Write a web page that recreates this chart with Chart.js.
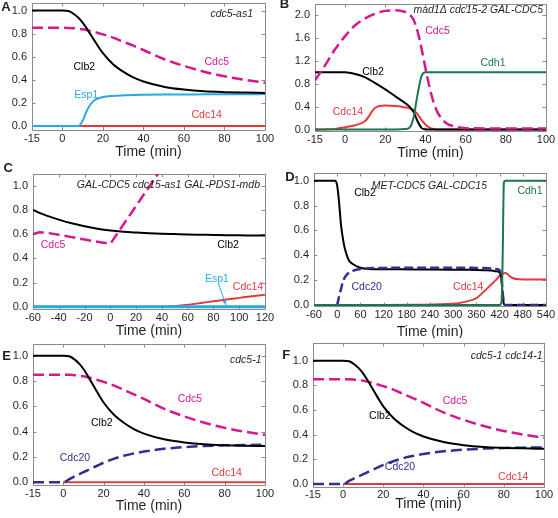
<!DOCTYPE html>
<html>
<head>
<meta charset="utf-8">
<script src="https://cdn.jsdelivr.net/npm/chart.js@4.4.0/dist/chart.umd.min.js"></script>
<style>
  html, body { margin: 0; padding: 0; background: #fff; }
  #wrap { position: relative; width: 558px; height: 518px; overflow: hidden; }
  #wrap canvas { position: absolute; }
</style>
</head>
<body>
<div id="wrap">
  <canvas id="pA"></canvas>
  <canvas id="pB"></canvas>
  <canvas id="pC"></canvas>
  <canvas id="pD"></canvas>
  <canvas id="pE"></canvas>
  <canvas id="pF"></canvas>
</div>
<script>
// ============================================
// Data
// ============================================

// Panel A: cdc5-as1
const aTime  = [-15, 0, 3, 6, 8, 10, 12, 14, 16, 18, 20, 25, 30, 35, 40, 50, 60, 70, 80, 90, 100];
const aClb2  = [1, 1, 0.995, 0.965, 0.935, 0.895, 0.845, 0.79, 0.735, 0.68, 0.63, 0.535, 0.47, 0.42, 0.385, 0.34, 0.315, 0.3, 0.293, 0.289, 0.286];
const aCdc5  = [0.85, 0.85, 0.849, 0.846, 0.842, 0.837, 0.83, 0.822, 0.813, 0.803, 0.793, 0.765, 0.73, 0.695, 0.658, 0.58, 0.52, 0.47, 0.43, 0.4, 0.375];
const aEsp1  = [0, 0, 0, 0, 0, 0.045, 0.13, 0.19, 0.225, 0.24, 0.25, 0.26, 0.265, 0.268, 0.27, 0.272, 0.273, 0.274, 0.275, 0.275, 0.276];
const aCdc14 = [0, 0, 0, 0, 0, 0, 0, 0, 0, 0, 0, 0, 0, 0, 0, 0, 0, 0, 0, 0, 0];

// Panel B: mad1Δ cdc15-2 GAL-CDC5
const bTime  = [-15, -10, -5, 0, 5, 10, 15, 20, 25, 30, 32, 34, 36, 38, 40, 42, 44, 46, 50, 55, 60, 70, 80, 100];
const bCdc5  = [0.86, 1.12, 1.4, 1.63, 1.82, 1.94, 2.02, 2.07, 2.08, 2.05, 2.01, 1.92, 1.72, 1.42, 1.07, 0.74, 0.48, 0.3, 0.12, 0.05, 0.025, 0.02, 0.02, 0.02];
const bClb2  = [1, 1, 1, 1, 0.97, 0.91, 0.81, 0.7, 0.58, 0.46, 0.4, 0.31, 0.15, 0.03, 0.005, 0, 0, 0, 0, 0, 0, 0, 0, 0];
const bCdc14 = [0, 0.003, 0.012, 0.04, 0.075, 0.15, 0.38, 0.42, 0.41, 0.385, 0.37, 0.34, 0.27, 0.17, 0.09, 0.035, 0.01, 0, 0, 0, 0, 0, 0, 0];
const bCdh1  = [0, 0, 0, 0, 0, 0, 0, 0, 0.002, 0.008, 0.03, 0.2, 0.6, 0.93, 1, 1, 1, 1, 1, 1, 1, 1, 1, 1];

// Panel C: GAL-CDC5 cdc15-as1 GAL-PDS1-mdb
const cTime  = [-60, -55, -50, -40, -30, -20, -10, 0, 10, 20, 30, 40, 50, 60, 70, 80, 90, 100, 110, 120];
const cClb2  = [0.8, 0.775, 0.755, 0.72, 0.69, 0.665, 0.645, 0.63, 0.62, 0.613, 0.607, 0.603, 0.6, 0.597, 0.595, 0.593, 0.591, 0.59, 0.589, 0.588];
const cCdc5  = [0.6, 0.615, 0.612, 0.595, 0.575, 0.555, 0.537, 0.52, 0.677, 0.833, 0.99, 1.147, null, null, null, null, null, null, null, null];
const cEsp1  = [0, 0, 0, 0, 0, 0, 0, 0, 0, 0, 0, 0, 0, 0, 0, 0, 0, 0, 0, 0];
const cCdc14 = [0, 0, 0, 0, 0, 0, 0, 0, 0, 0, 0, 0, 0.005, 0.016, 0.03, 0.045, 0.06, 0.073, 0.086, 0.098];

// Panel D: MET-CDC5 GAL-CDC15
const dTime  = [-60, -5, 0, 5, 10, 15, 20, 30, 40, 60, 80, 120, 200, 300, 330, 360, 380, 400, 410, 420, 425, 428, 431, 434, 438, 445, 455, 470, 500, 540];
const dClb2  = [1, 1, 0.96, 0.82, 0.64, 0.53, 0.45, 0.36, 0.33, 0.3, 0.29, 0.288, 0.286, 0.284, 0.283, 0.282, 0.28, 0.277, 0.272, 0.26, 0.2, 0.08, 0.01, 0, 0, 0, 0, 0, 0, 0];
const dCdc20 = [null, null, 0, 0.07, 0.13, 0.19, 0.225, 0.26, 0.275, 0.29, 0.295, 0.298, 0.3, 0.3, 0.3, 0.298, 0.297, 0.293, 0.29, 0.28, 0.22, 0.1, 0.02, 0, 0, 0, 0, 0, 0, 0];
const dCdh1  = [0, 0, 0, 0, 0, 0, 0, 0, 0, 0, 0, 0, 0, 0, 0, 0, 0, 0, 0, 0, 0.02, 0.4, 0.98, 1, 1, 1, 1, 1, 1, 1];
const dCdc14 = [0, 0, 0, 0, 0, 0, 0, 0, 0, 0, 0, 0, 0.002, 0.01, 0.025, 0.055, 0.11, 0.17, 0.2, 0.235, 0.245, 0.25, 0.255, 0.258, 0.255, 0.235, 0.215, 0.207, 0.205, 0.205];

// Panels E (cdc5-1) and F (cdc5-1 cdc14-1)
const eTime  = [-15, 0, 3, 6, 8, 10, 12, 14, 16, 18, 20, 25, 30, 35, 40, 50, 60, 70, 80, 90, 100];
const eClb2  = [1, 1, 0.995, 0.965, 0.935, 0.895, 0.845, 0.79, 0.735, 0.68, 0.63, 0.535, 0.47, 0.42, 0.385, 0.34, 0.315, 0.3, 0.293, 0.289, 0.286];
const eCdc5  = [0.85, 0.85, 0.849, 0.846, 0.842, 0.837, 0.83, 0.822, 0.813, 0.803, 0.793, 0.765, 0.73, 0.695, 0.658, 0.58, 0.52, 0.47, 0.43, 0.4, 0.375];
const eCdc20 = [0, 0, 0.025, 0.05, 0.065, 0.08, 0.095, 0.11, 0.125, 0.14, 0.155, 0.185, 0.21, 0.228, 0.243, 0.265, 0.278, 0.287, 0.292, 0.295, 0.297];
const eCdc14 = [null, 0, 0, 0, 0, 0, 0, 0, 0, 0, 0, 0, 0, 0, 0, 0, 0, 0, 0, 0, 0];

// Tick labels
const ticks100X = [-15, 0, 20, 40, 60, 80, 100];
const ticksCX   = [-60, -40, -20, 0, 20, 40, 60, 80, 100, 120];
const ticksDX   = [-60, 0, 60, 120, 180, 240, 300, 360, 420, 480, 540];
const ticksUnitY = [0, 0.2, 0.4, 0.6, 0.8, 1.0];
const ticksBY    = [0, 0.4, 0.8, 1.2, 1.6, 2.0];

// ============================================
// Styles
// ============================================
const FONT = "'Liberation Sans', Arial, sans-serif";
const INK = '#231f20';
const FRAME = '#8a8a8a';
const COL = {
    clb2: '#000000',
    cdc5: '#d6188f',
    esp1: '#27aae1',
    cdc14: '#e03a3e',
    cdh1: '#18784a',
    cdc20: '#2e3190'
};
const DASH = [11, 5];

function line(values, color, width, dash, straight) {
    return { values, color, width, dash: dash || [], straight: !!straight };
}

// box = canvas [left, top, width, height] in page px; area = plot frame [l, t, r, b]
const panels = [
    {
        id: 'pA', letter: 'A', letterAt: [-26, 4.5], box: [0, 0, 280, 166], area: [32, 3, 265, 130],
        titleY: 152, xMin: -15, xMax: 100, yMin: -0.035, yMax: 1.065,
        xTicks: ticks100X, yTicks: ticksUnitY, time: aTime,
        subtitle: 'cdc5-as1', subAt: [12, 11],
        series: [
            line(aClb2, COL.clb2, 2),
            line(aCdc5, COL.cdc5, 2.5, DASH),
            line(aEsp1, COL.esp1, 2),
            line(aCdc14, COL.cdc14, 2)
        ],
        notes: [
            ['Clb2', 10.8, 0.51, COL.clb2], ['Cdc5', 76.2, 0.555, COL.cdc5],
            ['Esp1', 11.8, 0.27, COL.esp1], ['Cdc14', 71.2, 0.095, COL.cdc14]
        ]
    },
    {
        id: 'pB', letter: 'B', letterAt: [-30.5, 0.5], box: [280, 0, 278, 166], area: [315, 4, 546, 131],
        titleY: 153, xMin: -15, xMax: 100, yMin: -0.025, yMax: 2.19,
        xTicks: ticks100X, yTicks: ticksBY, time: bTime,
        subtitle: 'mad1Δ cdc15-2 GAL-CDC5', subAt: [3, 6],
        series: [
            line(bCdc5, COL.cdc5, 2.5, DASH),
            line(bCdh1, COL.cdh1, 2),
            line(bClb2, COL.clb2, 2),
            line(bCdc14, COL.cdc14, 2)
        ],
        notes: [
            ['Cdc5', 46, 1.71, COL.cdc5], ['Clb2', 13.9, 1.01, COL.clb2],
            ['Cdh1', 73.6, 1.16, COL.cdh1], ['Cdc14', 1.4, 0.3, COL.cdc14]
        ]
    },
    {
        id: 'pC', letter: 'C', letterAt: [-24.7, -6], box: [0, 160, 280, 178], area: [33, 174, 265, 309],
        titleY: 331.5, xMin: -60, xMax: 120, yMin: -0.019, yMax: 1.097,
        xTicks: ticksCX, yTicks: ticksUnitY, time: cTime,
        subtitle: 'GAL-CDC5 cdc15-as1 GAL-PDS1-mdb', subAt: [5, 11],
        series: [
            line(cEsp1, COL.esp1, 3),
            line(cCdc14, COL.cdc14, 2),
            line(cClb2, COL.clb2, 2),
            line(cCdc5, COL.cdc5, 2.5, DASH, true)
        ],
        notes: [
            ['Cdc5', -44.5, 0.51, COL.cdc5], ['Clb2', 91.3, 0.51, COL.clb2],
            ['Esp1', 82.7, 0.226, COL.esp1], ['Cdc14', 106.8, 0.16, COL.cdc14]
        ],
        arrow: [83.8, 0.193, 89.7, 0.014, COL.esp1]
    },
    {
        id: 'pD', letter: 'D', letterAt: [-24, 4], box: [280, 160, 278, 178], area: [314, 173, 546, 306],
        titleY: 332.5, xMin: -60, xMax: 540, yMin: -0.008, yMax: 1.062,
        xTicks: ticksDX, yTicks: ticksUnitY, time: dTime,
        subtitle: 'MET-CDC5 GAL-CDC15', subAt: [59, 13],
        series: [
            line(dCdh1, COL.cdh1, 2),
            line(dCdc20, COL.cdc20, 2.5, [9, 4]),
            line(dClb2, COL.clb2, 2),
            line(dCdc14, COL.cdc14, 2)
        ],
        notes: [
            ['Clb2', 71.9, 0.9, COL.clb2], ['Cdh1', 498.6, 0.92, COL.cdh1],
            ['Cdc20', 76.3, 0.142, COL.cdc20], ['Cdc14', 339, 0.142, COL.cdc14]
        ]
    },
    {
        id: 'pE', letter: 'E', letterAt: [-26.3, 12], box: [0, 338, 280, 180], area: [33, 344, 265, 485],
        titleY: 506, xMin: -15, xMax: 100, yMin: -0.021, yMax: 1.092,
        xTicks: ticks100X, yTicks: ticksUnitY, time: eTime,
        subtitle: 'cdc5-1', subAt: [3.5, 16.5],
        series: [
            line(eClb2, COL.clb2, 2),
            line(eCdc5, COL.cdc5, 2.5, DASH),
            line(eCdc20, COL.cdc20, 2.5, DASH),
            line(eCdc14, COL.cdc14, 2)
        ],
        notes: [
            ['Cdc5', 62.8, 0.66, COL.cdc5], ['Clb2', 19.1, 0.466, COL.clb2],
            ['Cdc20', 5.8, 0.194, COL.cdc20], ['Cdc14', 81, 0.076, COL.cdc14]
        ]
    },
    {
        id: 'pF', letter: 'F', letterAt: [-26.7, 12], box: [280, 338, 278, 180], area: [313, 343, 544, 486.5],
        titleY: 504, xMin: -15, xMax: 100, yMin: -0.02, yMax: 1.143,
        xTicks: ticks100X, yTicks: ticksUnitY, time: eTime,
        subtitle: 'cdc5-1 cdc14-1', subAt: [1.5, 13],
        series: [
            line(eClb2, COL.clb2, 2),
            line(eCdc5, COL.cdc5, 2.5, DASH),
            line(eCdc20, COL.cdc20, 2.5, DASH),
            line(eCdc14, COL.cdc14, 2)
        ],
        notes: [
            ['Cdc5', 55.7, 0.67, COL.cdc5], ['Clb2', 18.3, 0.55, COL.clb2],
            ['Cdc20', 28.3, 0.14, COL.cdc20], ['Cdc14', 84.7, 0.06, COL.cdc14]
        ]
    }
];

// Frame with inward tick marks on all four sides
const framePlugin = {
    id: 'frame',
    beforeDatasetsDraw(chart) {
        const { ctx, chartArea: a, scales } = chart;
        const len = 3.5;
        ctx.save();
        ctx.strokeStyle = FRAME;
        ctx.lineWidth = 1;
        ctx.beginPath();
        ctx.rect(Math.round(a.left) + 0.5, Math.round(a.top) + 0.5,
                 Math.round(a.right - a.left), Math.round(a.bottom - a.top));
        scales.x.ticks.forEach(t => {
            const x = Math.round(scales.x.getPixelForValue(t.value)) + 0.5;
            ctx.moveTo(x, a.bottom); ctx.lineTo(x, a.bottom - len);
            ctx.moveTo(x, a.top); ctx.lineTo(x, a.top + len);
        });
        scales.y.ticks.forEach(t => {
            const y = Math.round(scales.y.getPixelForValue(t.value)) + 0.5;
            ctx.moveTo(a.left, y); ctx.lineTo(a.left + len, y);
            ctx.moveTo(a.right, y); ctx.lineTo(a.right - len, y);
        });
        ctx.stroke();
        ctx.restore();
    }
};

// Panel letter, italic strain name and curve labels
const notesPlugin = {
    id: 'notes',
    afterDatasetsDraw(chart, args, opts) {
        const p = opts.panel;
        const { ctx, chartArea: a, scales } = chart;
        ctx.save();
        ctx.textBaseline = 'middle';

        ctx.font = "bold 13px " + FONT;
        ctx.fillStyle = INK;
        ctx.textAlign = 'center';
        ctx.fillText(p.letter, a.left + p.letterAt[0], a.top + p.letterAt[1]);

        ctx.font = "italic 10.5px " + FONT;
        ctx.textAlign = 'right';
        ctx.fillText(p.subtitle, a.right - p.subAt[0], a.top + p.subAt[1]);

        ctx.font = "10.5px " + FONT;
        ctx.textAlign = 'center';
        p.notes.forEach(([text, x, y, color]) => {
            ctx.fillStyle = color;
            ctx.fillText(text, scales.x.getPixelForValue(x), scales.y.getPixelForValue(y));
        });

        if (p.arrow) {
            const [x0, y0, x1, y1, color] = p.arrow;
            const px0 = scales.x.getPixelForValue(x0), py0 = scales.y.getPixelForValue(y0);
            const px1 = scales.x.getPixelForValue(x1), py1 = scales.y.getPixelForValue(y1);
            const ang = Math.atan2(py1 - py0, px1 - px0);
            ctx.strokeStyle = color;
            ctx.fillStyle = color;
            ctx.lineWidth = 1;
            ctx.beginPath();
            ctx.moveTo(px0, py0);
            ctx.lineTo(px1, py1);
            ctx.stroke();
            ctx.beginPath();
            ctx.moveTo(px1, py1);
            ctx.lineTo(px1 - 5 * Math.cos(ang - 0.4), py1 - 5 * Math.sin(ang - 0.4));
            ctx.lineTo(px1 - 5 * Math.cos(ang + 0.4), py1 - 5 * Math.sin(ang + 0.4));
            ctx.closePath();
            ctx.fill();
        }
        ctx.restore();
    }
};

function makePanel(p) {
    const el = document.getElementById(p.id);
    const [bx, by, bw, bh] = p.box;
    const [l, t, r, b] = p.area;
    el.style.left = bx + 'px';
    el.style.top = by + 'px';
    el.width = bw;
    el.height = bh;

    const yWidth = l - bx;
    const xHeight = by + bh - b;
    const titleSize = 14;
    const titlePad = (by + bh) - p.titleY - titleSize * 1.2 / 2;

    const datasets = p.series.map(s => ({
        data: p.time.map((tv, i) => ({ x: tv, y: s.values[i] })).filter(d => d.y !== null),
        borderColor: s.color,
        borderWidth: s.width,
        borderDash: s.dash,
        borderCapStyle: 'butt',
        pointRadius: 0,
        fill: false,
        clip: 0,
        cubicInterpolationMode: s.straight ? 'default' : 'monotone',
        tension: 0
    }));

    return new Chart(el, {
        type: 'line',
        data: { datasets },
        options: {
            responsive: false,
            animation: false,
            events: [],
            layout: {
                autoPadding: false,
                padding: { top: t - by, right: bx + bw - r, left: 0, bottom: 0 }
            },
            plugins: {
                legend: { display: false },
                tooltip: { enabled: false },
                notes: { panel: p }
            },
            scales: {
                x: {
                    type: 'linear',
                    min: p.xMin,
                    max: p.xMax,
                    grid: { display: false, drawTicks: false },
                    border: { display: false },
                    afterBuildTicks: s => { s.ticks = p.xTicks.map(v => ({ value: v })); },
                    afterFit: s => {
                        s.height = xHeight;
                        s.paddingLeft = 0; s.paddingRight = 0;
                    },
                    ticks: {
                        autoSkip: false,
                        maxRotation: 0,
                        padding: 2,
                        color: INK,
                        font: { family: FONT, size: 11 },
                        callback: v => String(v)
                    },
                    title: {
                        display: true,
                        text: 'Time (min)',
                        color: INK,
                        font: { family: FONT, size: titleSize },
                        padding: { top: 0, bottom: titlePad }
                    }
                },
                y: {
                    type: 'linear',
                    min: p.yMin,
                    max: p.yMax,
                    grid: { display: false, drawTicks: false },
                    border: { display: false },
                    afterBuildTicks: s => { s.ticks = p.yTicks.map(v => ({ value: v })); },
                    afterFit: s => {
                        s.width = yWidth;
                        s.paddingTop = 0; s.paddingBottom = 0;
                    },
                    ticks: {
                        padding: 5,
                        color: INK,
                        font: { family: FONT, size: 11 },
                        callback: v => v.toFixed(1)
                    }
                }
            }
        },
        plugins: [framePlugin, notesPlugin]
    });
}

panels.forEach(makePanel);
</script>
</body>
</html>
